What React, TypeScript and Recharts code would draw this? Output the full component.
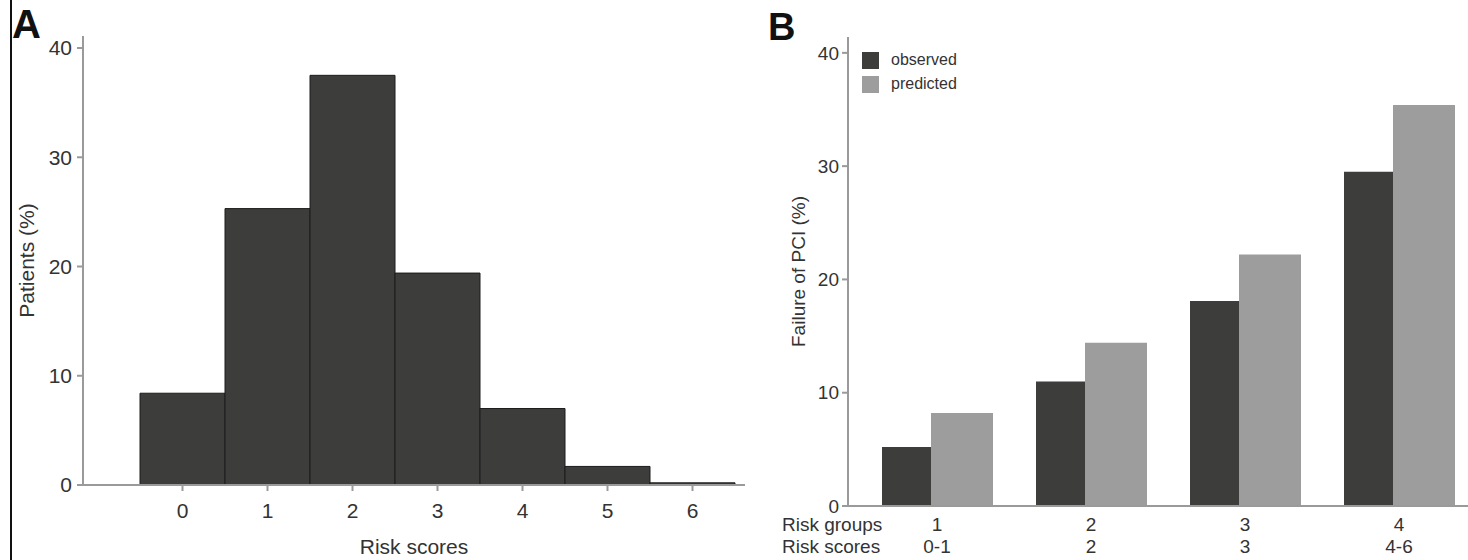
import React from 'react'
import { BarChart, Bar, XAxis, YAxis, Legend } from 'recharts'

// Panel A: histogram of risk scores
const riskScores = ['0', '1', '2', '3', '4', '5', '6']
const patientsPct = [8.4, 25.3, 37.5, 19.4, 7.0, 1.7, 0.2]

// Panel B: observed vs predicted failure by risk group
const riskGroups = ['1', '2', '3', '4']
const groupScores = ['0-1', '2', '3', '4-6']
const observed = [5.2, 11.0, 18.1, 29.5]
const predicted = [8.2, 14.4, 22.2, 35.4]

const yTicks = [0, 10, 20, 30, 40]

const DARK = '#3d3d3c'
const LIGHT = '#9d9d9d'
const AXIS = '#9a9a9a'
const TEXT = '#333333'
const FONT = '"Liberation Sans", Arial, sans-serif'

const histData = riskScores.map((s, i) => ({ score: s, pct: patientsPct[i] }))
const groupData = riskGroups.map((g, i) => ({
  group: g,
  scores: groupScores[i],
  observed: observed[i],
  predicted: predicted[i],
}))

const VLabel = ({ viewBox, value, dx, fontSize }: any) => {
  const cx = viewBox.x + dx
  const cy = viewBox.y + viewBox.height / 2
  return (
    <text
      x={cx}
      y={cy}
      transform={`rotate(-90 ${cx} ${cy})`}
      textAnchor="middle"
      dominantBaseline="central"
      fill={TEXT}
      fontSize={fontSize}
      fontFamily={FONT}
    >
      {value}
    </text>
  )
}

const GroupTick = ({ x, y, payload, index }: any) => (
  <g fill={TEXT} fontSize={19} fontFamily={FONT}>
    <text x={x} y={y + 17} textAnchor="middle" fill={TEXT}>{payload.value}</text>
    <text x={x} y={y + 39} textAnchor="middle" fill={TEXT}>{groupScores[index]}</text>
    {index === 0 && (
      <>
        <text x={42} y={y + 17} fill={TEXT}>Risk groups</text>
        <text x={42} y={y + 39} fill={TEXT}>Risk scores</text>
      </>
    )}
  </g>
)

const LegendBox = () => (
  <div style={{ fontFamily: FONT, fontSize: 16, color: TEXT }}>
    {[
      { name: 'observed', color: DARK },
      { name: 'predicted', color: LIGHT },
    ].map((item) => (
      <div key={item.name} style={{ display: 'flex', alignItems: 'center', height: 24 }}>
        <span style={{ width: 17, height: 17, background: item.color, display: 'inline-block', marginRight: 12 }} />
        <span>{item.name}</span>
      </div>
    ))}
  </div>
)

export default function App() {
  return (
    <div style={{ position: 'absolute', left: 0, top: 0, width: 1468, height: 560, overflow: 'hidden', background: '#fff' }}>
      {/* figure border */}
      <div style={{ position: 'absolute', left: 10, top: 0, width: 2, height: 560, background: '#111' }} />

      <div style={{ position: 'absolute', left: 12, top: 2, fontFamily: FONT, fontWeight: 'bold', fontSize: 40, lineHeight: '44px', color: '#111' }}>A</div>
      <div style={{ position: 'absolute', left: 768, top: 6, fontFamily: FONT, fontWeight: 'bold', fontSize: 38, lineHeight: '42px', color: '#111' }}>B</div>

      {/* Panel A */}
      <div style={{ position: 'absolute', left: 0, top: 0 }}>
        <BarChart width={760} height={560} data={histData} margin={{ top: 36, right: 15, bottom: 0, left: 0 }} barCategoryGap={0}>
          <XAxis
            dataKey="score"
            height={75}
            padding={{ left: 57, right: 10 }}
            stroke={AXIS}
            strokeWidth={2}
            tickSize={6}
            tickMargin={12}
            tick={{ fill: TEXT, fontSize: 21, fontFamily: FONT }}
            label={{ value: 'Risk scores', position: 'insideBottom', offset: 6, fill: TEXT, fontSize: 21, fontFamily: FONT }}
          />
          <YAxis
            width={83}
            domain={[0, 41.1]}
            ticks={yTicks}
            stroke={AXIS}
            strokeWidth={2}
            tickSize={6}
            tickMargin={5}
            tick={{ fill: TEXT, fontSize: 21, fontFamily: FONT }}
            label={<VLabel value="Patients (%)" dx={26} fontSize={21} />}
          />
          <Bar dataKey="pct" fill={DARK} stroke="#1c1c1c" strokeWidth={1} isAnimationActive={false} />
        </BarChart>
      </div>

      {/* Panel B */}
      <div style={{ position: 'absolute', left: 740, top: 0 }}>
        <BarChart width={740} height={560} data={groupData} margin={{ top: 37, right: 4, bottom: 0, left: 0 }} barGap={0}>
          <XAxis
            dataKey="group"
            height={54}
            padding={{ left: 12, right: 0 }}
            stroke={AXIS}
            strokeWidth={2}
            tickLine={false}
            tickSize={6}
            tickMargin={2}
            interval={0}
            tick={<GroupTick />}
          />
          <YAxis
            width={108}
            domain={[0, 41.4]}
            ticks={yTicks}
            stroke={AXIS}
            strokeWidth={2}
            tickSize={6}
            tickMargin={3}
            tick={{ fill: TEXT, fontSize: 19, fontFamily: FONT }}
            label={<VLabel value="Failure of PCI (%)" dx={58} fontSize={19} />}
          />
          <Legend
            layout="vertical"
            verticalAlign="middle"
            align="center"
            content={<LegendBox />}
            wrapperStyle={{ left: 122, top: 48, width: 'auto' }}
          />
          <Bar dataKey="observed" barSize={49} fill={DARK} isAnimationActive={false} />
          <Bar dataKey="predicted" barSize={62} fill={LIGHT} isAnimationActive={false} />
        </BarChart>
      </div>
    </div>
  )
}
